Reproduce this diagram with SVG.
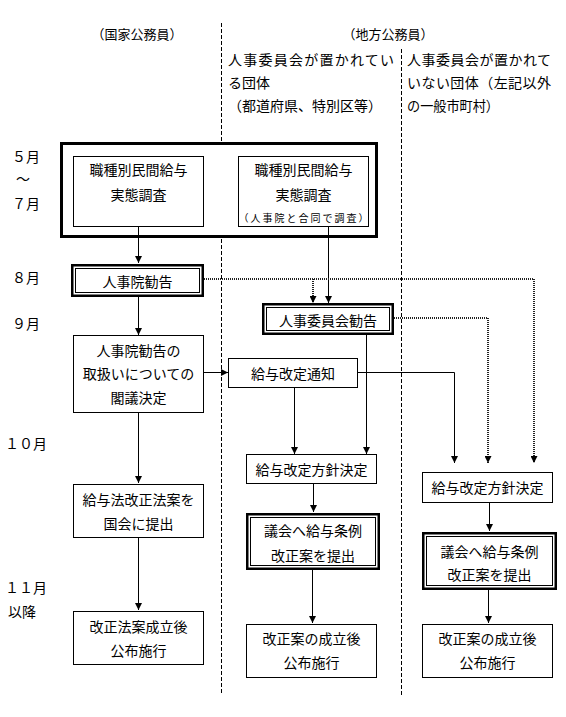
<svg xmlns="http://www.w3.org/2000/svg" width="566" height="717" viewBox="0 0 566 717">
<defs>
<style>
text{font-family:"Noto Sans CJK JP","Noto Sans CJK SC",sans-serif;font-size:14px;fill:#000;dominant-baseline:central}
.c{text-anchor:middle}
.hd{font-size:13px}
.sm{font-size:10px;letter-spacing:2px}
.box{fill:#fff;stroke:#000;stroke-width:1}
.dbo{fill:#fff;stroke:#000;stroke-width:2.5}
.dbi{fill:none;stroke:#000;stroke-width:1}
.solid{fill:none;stroke:#000;stroke-width:1}
.dot{fill:none;stroke:#222;stroke-width:2;stroke-dasharray:1 1}
.div{fill:none;stroke:#000;stroke-width:1;stroke-dasharray:4 2}
</style>
<marker id="ah" markerUnits="userSpaceOnUse" markerWidth="7" markerHeight="7" refX="7" refY="3.5" orient="auto">
<path d="M0,0 L7,3.5 L0,7 z" fill="#000"/>
</marker>
</defs>
<rect width="566" height="717" fill="#fff"/>

<g id="dividers">
<line class="div" x1="221.5" y1="23" x2="221.5" y2="695"/>
<line class="div" x1="401.5" y1="49" x2="401.5" y2="695"/>
</g>

<g id="headers">
<text class="c hd" x="137" y="33">（国家公務員）</text>
<text class="c hd" x="388" y="33">（地方公務員）</text>
<text x="228" y="59" textLength="166" lengthAdjust="spacing">人事委員会が置かれてい</text>
<text x="228" y="82">る団体</text>
<text x="228" y="105">（都道府県、特別区等）</text>
<text x="407" y="59" textLength="144" lengthAdjust="spacing">人事委員会が置かれて</text>
<text x="407" y="82" textLength="144" lengthAdjust="spacing">いない団体（左記以外</text>
<text x="407" y="105" textLength="92" lengthAdjust="spacingAndGlyphs">の一般市町村）</text>
</g>

<g id="months">
<text x="12" y="156">５月</text>
<text x="16" y="178">～</text>
<text x="12" y="203">７月</text>
<text x="12" y="277">８月</text>
<text x="12" y="323">９月</text>
<text x="5" y="443">１０月</text>
<text x="5" y="587">１１月</text>
<text x="8" y="611">以降</text>
</g>

<g id="survey-group">
<rect x="61.5" y="143.5" width="315" height="93" fill="#fff" stroke="#000" stroke-width="3"/>
</g>

<g id="connectors">
<line class="solid" x1="138.5" y1="227" x2="138.5" y2="263" marker-end="url(#ah)"/>
<line class="solid" x1="328.5" y1="227" x2="328.5" y2="303" marker-end="url(#ah)"/>
<path class="dot" d="M204,279 H534 V463" marker-end="url(#ah)"/>
<path class="dot" d="M313,279 V303" marker-end="url(#ah)"/>
<line class="solid" x1="138.5" y1="297" x2="138.5" y2="335" marker-end="url(#ah)"/>
<line class="solid" x1="204" y1="372.5" x2="228" y2="372.5" marker-end="url(#ah)"/>
<line class="solid" x1="366.5" y1="335" x2="366.5" y2="454" marker-end="url(#ah)"/>
<path class="dot" d="M394,318 H488 V463" marker-end="url(#ah)"/>
<path class="solid" d="M358,372.5 H454.5 V463" marker-end="url(#ah)"/>
<line class="solid" x1="294.5" y1="388" x2="294.5" y2="454" marker-end="url(#ah)"/>
<line class="solid" x1="138.5" y1="413" x2="138.5" y2="483" marker-end="url(#ah)"/>
<line class="solid" x1="138.5" y1="538" x2="138.5" y2="610" marker-end="url(#ah)"/>
<line class="solid" x1="313.5" y1="484" x2="313.5" y2="512" marker-end="url(#ah)"/>
<line class="solid" x1="312.5" y1="570" x2="312.5" y2="623" marker-end="url(#ah)"/>
<line class="solid" x1="489.5" y1="503" x2="489.5" y2="531" marker-end="url(#ah)"/>
<line class="solid" x1="488.5" y1="590" x2="488.5" y2="623" marker-end="url(#ah)"/>
</g>

<g id="n-survey-national">
<rect class="box" x="73.5" y="156.5" width="130" height="70"/>
<text class="c" x="138.5" y="169">職種別民間給与</text>
<text class="c" x="138.5" y="194">実態調査</text>
</g>
<g id="n-survey-local">
<rect class="box" x="238.5" y="156.5" width="130" height="70"/>
<text class="c" x="303.5" y="169">職種別民間給与</text>
<text class="c" x="303.5" y="194">実態調査</text>
<text class="c sm" x="304.5" y="217">（人事院と合同で調査）</text>
</g>
<g id="n-jinjiin">
<rect class="dbo" x="72.25" y="265.25" width="130.5" height="30.5"/>
<rect class="dbi" x="75.5" y="268.5" width="124" height="24"/>
<text class="c" x="137.5" y="281">人事院勧告</text>
</g>
<g id="n-iinkai">
<rect class="dbo" x="263.25" y="304.25" width="129.5" height="29.5"/>
<rect class="dbi" x="266.5" y="307.5" width="123" height="23"/>
<text class="c" x="328" y="320">人事委員会勧告</text>
</g>
<g id="n-kakugi">
<rect class="box" x="73.5" y="335.5" width="130" height="77"/>
<text class="c" x="138.5" y="350">人事院勧告の</text>
<text class="c" x="138.5" y="373">取扱いについての</text>
<text class="c" x="138.5" y="397">閣議決定</text>
</g>
<g id="n-tsuchi">
<rect class="box" x="228.5" y="358.5" width="129" height="29"/>
<text class="c" x="293" y="372.5">給与改定通知</text>
</g>
<g id="n-houshin-mid">
<rect class="box" x="246.5" y="454.5" width="130" height="29"/>
<text class="c" x="311.5" y="469">給与改定方針決定</text>
</g>
<g id="n-houshin-right">
<rect class="box" x="422.5" y="472.5" width="130" height="30"/>
<text class="c" x="487.5" y="487">給与改定方針決定</text>
</g>
<g id="n-houan">
<rect class="box" x="73.5" y="484.5" width="130" height="53"/>
<text class="c" x="138.5" y="499">給与法改正法案を</text>
<text class="c" x="138.5" y="523">国会に提出</text>
</g>
<g id="n-gikai-mid">
<rect class="dbo" x="247.25" y="514.25" width="131.5" height="54.5"/>
<rect class="dbi" x="250.5" y="517.5" width="125" height="48"/>
<text class="c" x="313" y="530">議会へ給与条例</text>
<text class="c" x="313" y="555">改正案を提出</text>
</g>
<g id="n-gikai-right">
<rect class="dbo" x="423.25" y="533.25" width="132.5" height="55.5"/>
<rect class="dbi" x="426.5" y="536.5" width="126" height="49"/>
<text class="c" x="489.5" y="551">議会へ給与条例</text>
<text class="c" x="489.5" y="574">改正案を提出</text>
</g>
<g id="n-seiritsu-national">
<rect class="box" x="73.5" y="611.5" width="130" height="53"/>
<text class="c" x="138.5" y="626">改正法案成立後</text>
<text class="c" x="138.5" y="650">公布施行</text>
</g>
<g id="n-seiritsu-mid">
<rect class="box" x="246.5" y="624.5" width="130" height="53"/>
<text class="c" x="311.5" y="638">改正案の成立後</text>
<text class="c" x="311.5" y="662">公布施行</text>
</g>
<g id="n-seiritsu-right">
<rect class="box" x="422.5" y="624.5" width="130" height="53"/>
<text class="c" x="487.5" y="638">改正案の成立後</text>
<text class="c" x="487.5" y="662">公布施行</text>
</g>
</svg>
